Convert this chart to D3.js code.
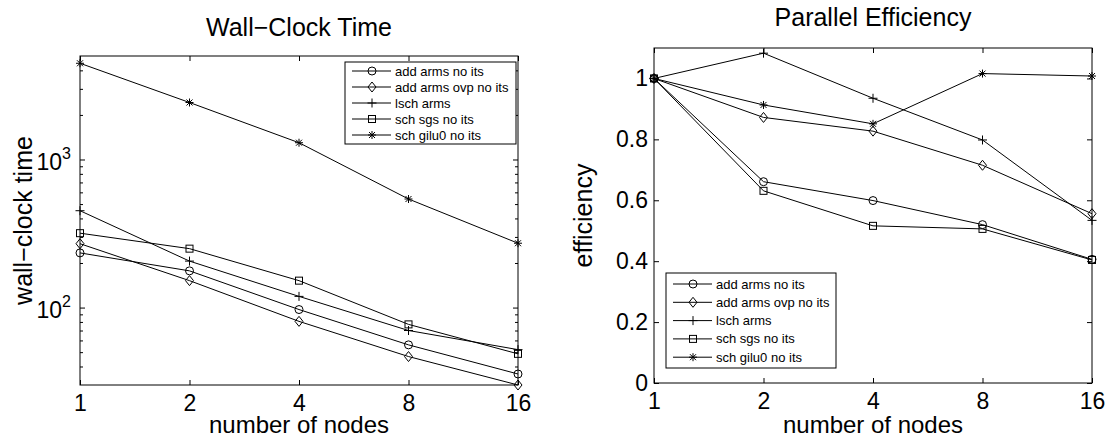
<!DOCTYPE html>
<html>
<head>
<meta charset="utf-8">
<script src="https://cdn.jsdelivr.net/npm/d3@7"></script>
<style>
  body { margin: 0; background: #fff; }
  svg text { font-family: "Liberation Sans", Arial, Helvetica, sans-serif; fill: #000; }
  .axis path.domain { display: none; }
  .axis line { stroke: #000; stroke-width: 1; }
</style>
</head>
<body>
<div id="chart"></div>
<script>
// data
const nodes = [1, 2, 4, 8, 16]
const seriesNames = ['add arms no its', 'add arms ovp no its', 'lsch arms', 'sch sgs no its', 'sch gilu0 no its']

// wall-clock time per series (same order as seriesNames)
const timeAddArms = [234, 177, 97, 56, 35.6]
const timeAddArmsOvp = [270, 152, 80.7, 46.7, 30]
const timeLschArms = [451, 206, 119, 70, 52]
const timeSchSgs = [318, 250, 152, 77, 48.7]
const timeSchGilu0 = [4465, 2426, 1298, 541, 272]

// parallel efficiency per series
const effAddArms = [1, 0.661, 0.599, 0.520, 0.406]
const effAddArmsOvp = [1, 0.872, 0.827, 0.715, 0.556]
const effLschArms = [1, 1.083, 0.935, 0.798, 0.534]
const effSchSgs = [1, 0.631, 0.516, 0.506, 0.404]
const effSchGilu0 = [1, 0.913, 0.851, 1.016, 1.008]

const timeTicks = [100, 1000]
const timeMinorTicks = [40, 50, 60, 70, 80, 90, 200, 300, 400, 500, 600, 700, 800, 900, 2000, 3000, 4000]
const effTicks = [0, 0.2, 0.4, 0.6, 0.8, 1]

const markerTypes = ['circle', 'diamond', 'plus', 'square', 'star']

const W = 1108, H = 438
const svg = d3.select('#chart').append('svg').attr('width', W).attr('height', H)
svg.append('rect').attr('width', W).attr('height', H).attr('fill', '#fff')

function drawMarker(g, type) {
  let m
  if (type === 'circle') m = g.append('circle').attr('r', 4)
  else if (type === 'diamond') m = g.append('path').attr('d', 'M0,-5L4,0L0,5L-4,0Z')
  else if (type === 'square') m = g.append('rect').attr('x', -3.5).attr('y', -3.5).attr('width', 7).attr('height', 7)
  else if (type === 'plus') m = g.append('path').attr('d', 'M-4.5,0H4.5M0,-4.5V4.5')
  else m = g.append('path').attr('d', 'M-4,0H4M0,-4V4M-3,-3L3,3M-3,3L3,-3')
  m.attr('fill', 'none').attr('stroke', '#000').attr('stroke-width', 1)
}

function panel(opts) {
  const {box, yScaleType, yDomain, series, title, titleY, ylabel, ylabelX, legend} = opts
  const x = d3.scaleLog().base(2).domain([1, 16]).range([box.x0, box.x1])
  const y = (yScaleType === 'log' ? d3.scaleLog() : d3.scaleLinear())
    .domain(yDomain).range([box.y1, box.y0])
  const g = svg.append('g')

  // lines and markers
  const line = d3.line().x((d, i) => x(nodes[i])).y(d => y(d))
  series.forEach((vals, si) => {
    g.append('path').attr('d', line(vals)).attr('fill', 'none')
      .attr('stroke', '#000').attr('stroke-width', 1)
    vals.forEach((v, i) => {
      drawMarker(g.append('g').attr('transform', `translate(${x(nodes[i])},${y(v)})`), markerTypes[si])
    })
  })

  // axes (ticks point inward, MATLAB style)
  const fontTick = 23
  const xb = g.append('g').attr('class', 'axis').attr('transform', `translate(0,${box.y1})`)
    .call(d3.axisBottom(x).tickValues(nodes).tickFormat(d3.format('d')).tickSize(-5).tickPadding(10))
  xb.selectAll('text').attr('font-size', fontTick)
  g.append('g').attr('class', 'axis').attr('transform', `translate(0,${box.y0})`)
    .call(d3.axisTop(x).tickValues(nodes).tickFormat('').tickSize(-5))

  if (yScaleType === 'log') {
    const yl = g.append('g').attr('class', 'axis').attr('transform', `translate(${box.x0},0)`)
      .call(d3.axisLeft(y).tickValues(timeTicks).tickFormat(d => Math.round(Math.log10(d))).tickSize(-5).tickPadding(9))
    yl.selectAll('text').each(function (d) {
      const t = d3.select(this)
      const e = Math.round(Math.log10(d))
      t.text(null).attr('font-size', fontTick).attr('dy', '0.45em')
      t.append('tspan').text('10')
      t.append('tspan').attr('font-size', 16).attr('dy', -11).text(e)
    })
    g.append('g').attr('class', 'axis').attr('transform', `translate(${box.x0},0)`)
      .call(d3.axisLeft(y).tickValues(timeMinorTicks).tickFormat('').tickSize(-3))
    g.append('g').attr('class', 'axis').attr('transform', `translate(${box.x1},0)`)
      .call(d3.axisRight(y).tickValues(timeTicks).tickFormat('').tickSize(-5))
    g.append('g').attr('class', 'axis').attr('transform', `translate(${box.x1},0)`)
      .call(d3.axisRight(y).tickValues(timeMinorTicks).tickFormat('').tickSize(-3))
  } else {
    const yl = g.append('g').attr('class', 'axis').attr('transform', `translate(${box.x0},0)`)
      .call(d3.axisLeft(y).tickValues(effTicks).tickFormat(d => d === 0 || d === 1 ? d3.format('d')(d) : d3.format('.1f')(d)).tickSize(-5).tickPadding(6))
    yl.selectAll('text').attr('font-size', fontTick)
    g.append('g').attr('class', 'axis').attr('transform', `translate(${box.x1},0)`)
      .call(d3.axisRight(y).tickValues(effTicks).tickFormat('').tickSize(-5))
  }

  g.append('rect').attr('x', box.x0).attr('y', box.y0)
    .attr('width', box.x1 - box.x0).attr('height', box.y1 - box.y0)
    .attr('fill', 'none').attr('stroke', '#000').attr('stroke-width', 1)

  // title and labels
  const cx = (box.x0 + box.x1) / 2
  g.append('text').attr('x', cx).attr('y', titleY).attr('text-anchor', 'middle')
    .attr('font-size', 25).text(title)
  g.append('text').attr('x', cx).attr('y', 433).attr('text-anchor', 'middle')
    .attr('font-size', 24).text('number of nodes')
  g.append('text').attr('transform', `translate(${ylabelX},${(box.y0 + box.y1) / 2}) rotate(-90)`)
    .attr('text-anchor', 'middle').attr('font-size', 25).text(ylabel)

  // legend
  const lg = g.append('g')
  lg.append('rect').attr('x', legend.x0).attr('y', legend.y0)
    .attr('width', legend.x1 - legend.x0).attr('height', legend.y1 - legend.y0)
    .attr('fill', '#fff').attr('stroke', '#000').attr('stroke-width', 1)
  seriesNames.forEach((name, i) => {
    const ry = legend.row0 + i * legend.step
    lg.append('line').attr('x1', legend.x0 + 7).attr('x2', legend.x0 + 46)
      .attr('y1', ry).attr('y2', ry).attr('stroke', '#000').attr('stroke-width', 1)
    drawMarker(lg.append('g').attr('transform', `translate(${legend.x0 + 27},${ry})`), markerTypes[i])
    lg.append('text').attr('x', legend.x0 + 50).attr('y', ry).attr('dy', '0.35em')
      .attr('font-size', 13).text(name)
  })
}

panel({
  box: {x0: 80, x1: 518, y0: 56, y1: 385},
  yScaleType: 'log', yDomain: [30, 5000],
  series: [timeAddArms, timeAddArmsOvp, timeLschArms, timeSchSgs, timeSchGilu0],
  title: 'Wall\u2212Clock Time', titleY: 36,
  ylabel: 'wall\u2212clock time', ylabelX: 32,
  legend: {x0: 345, x1: 516, y0: 62, y1: 144, row0: 71, step: 16}
})

panel({
  box: {x0: 654, x1: 1092, y0: 48, y1: 383},
  yScaleType: 'linear', yDomain: [0, 1.1],
  series: [effAddArms, effAddArmsOvp, effLschArms, effSchSgs, effSchGilu0],
  title: 'Parallel Efficiency', titleY: 26,
  ylabel: 'efficiency', ylabelX: 592,
  legend: {x0: 666, x1: 836, y0: 273, y1: 368, row0: 284, step: 18.3}
})
</script>
</body>
</html>
